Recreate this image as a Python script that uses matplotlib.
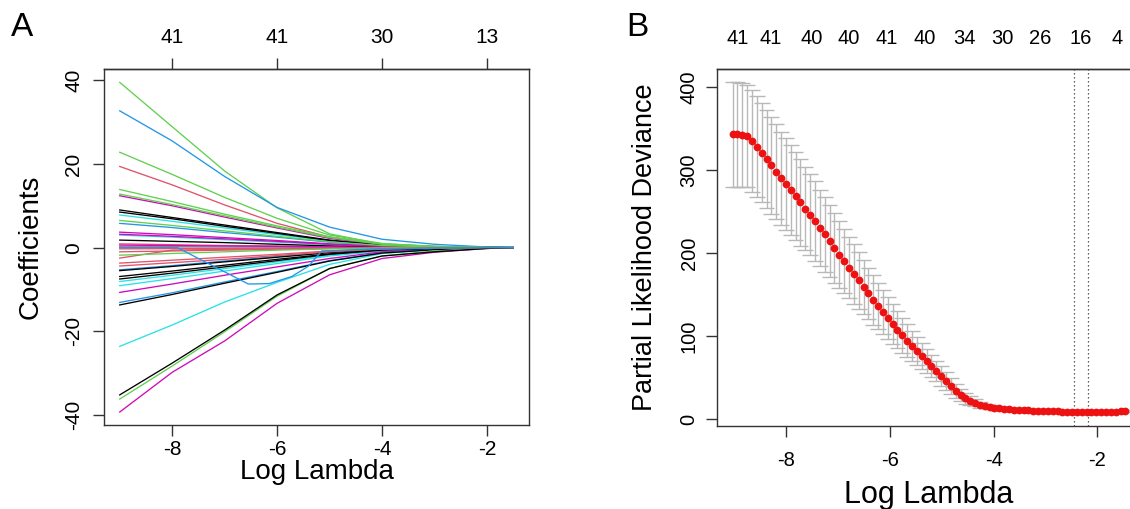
import numpy as np
import matplotlib
matplotlib.use("Agg")
import matplotlib.pyplot as plt

plt.rcParams['font.family'] = ['Liberation Sans', 'DejaVu Sans']

# ---------------- Panel A data: coefficient paths ----------------
KNOTS_A = [-9, -8, -7, -6, -5, -4, -3, -2, -1.5]

BLACK_PATHS = [
    [9.0, 7.2, 5.4, 3.6, 1.8, 0.6, 0.2, 0.03, 0],
    [8.5, 6.9, 5.1, 3.4, 1.7, 0.6, 0.2, 0.03, 0],
    [1.8, 1.5, 1.2, 0.8, 0.4, 0.15, 0.05, 0, 0],
    [-5.5, -4.5, -3.4, -2.3, -1.2, -0.4, -0.1, 0, 0],
    [-6.9, -5.6, -4.2, -2.8, -1.5, -0.5, -0.15, 0, 0],
    [-7.5, -6.1, -4.6, -3.1, -1.6, -0.6, -0.2, 0, 0],
    [-13.7, -11.2, -8.5, -5.9, -3.2, -1.3, -0.5, -0.1, 0],
    [-35.2, -27.6, -19.7, -11.3, -5.0, -2.0, -1.0, -0.2, 0],
]
RED_PATHS = [
    [19.4, 15.0, 10.2, 5.8, 2.5, 0.8, 0.3, 0.05, 0],
    [0.9, 0.7, 0.5, 0.4, 0.2, 0.05, 0, 0, 0],
    [0.2, 0.2, 0.15, 0.1, 0.05, 0, 0, 0, 0],
    [-0.3, -0.25, -0.2, -0.1, -0.05, 0, 0, 0, 0],
    [-1.0, -0.8, -0.6, -0.4, -0.2, -0.05, 0, 0, 0],
    [-2.5, -0.6, -0.4, -0.3, -0.15, -0.05, 0, 0, 0],
    [-3.7, -3.0, -2.3, -1.6, -0.8, -0.3, -0.1, 0, 0],
    [-4.4, -3.6, -2.8, -1.9, -1.0, -0.35, -0.1, 0, 0],
]
GREEN_PATHS = [
    [39.5, 28.9, 18.3, 9.5, 3.3, 0.8, 0.2, 0.05, 0],
    [22.8, 17.5, 12.0, 7.0, 3.0, 1.0, 0.3, 0.05, 0],
    [13.9, 11.0, 8.0, 5.2, 2.6, 0.9, 0.3, 0.05, 0],
    [12.8, 10.3, 7.6, 4.9, 2.4, 0.8, 0.25, 0.05, 0],
    [6.5, 5.3, 4.0, 2.7, 1.4, 0.5, 0.15, 0.02, 0],
    [-1.8, -1.4, -1.0, -0.6, -0.3, -0.1, 0, 0, 0],
    [-36.2, -28.3, -20.1, -11.6, -5.0, -2.0, -0.8, -0.15, 0],
]
BLUE_PATHS = [
    [32.7, 25.5, 17.0, 9.6, 4.9, 2.0, 0.8, 0.15, 0],
    [5.8, 4.8, 3.6, 2.5, 1.3, 0.4, 0.1, 0, 0],
    [-5.3, -4.3, -3.2, -2.1, -1.1, -0.4, -0.1, 0, 0],
    [-13.1, -10.8, -8.2, -5.7, -3.1, -1.2, -0.4, -0.05, 0],
]
CYAN_PATHS = [
    [7.8, 6.3, 4.7, 3.1, 1.6, 0.5, 0.15, 0.02, 0],
    [3.0, 2.5, 1.9, 1.3, 0.7, 0.25, 0.08, 0, 0],
    [-0.1, -0.1, -0.1, -0.05, 0, 0, 0, 0, 0],
    [-8.1, -6.6, -5.0, -3.4, -1.8, -0.7, -0.2, -0.03, 0],
    [-9.1, -7.4, -5.6, -3.8, -2.0, -0.8, -0.25, -0.04, 0],
    [-23.6, -18.5, -13.0, -8.3, -4.0, -1.4, -0.5, -0.1, 0],
]
MAGENTA_PATHS = [
    [12.4, 10.0, 7.3, 4.7, 2.2, 0.7, 0.2, 0.03, 0],
    [3.7, 3.1, 2.4, 1.7, 0.9, 0.3, 0.1, 0, 0],
    [3.2, 2.7, 2.1, 1.5, 0.8, 0.3, 0.1, 0, 0],
    [0.6, 0.5, 0.4, 0.3, 0.15, 0.05, 0, 0, 0],
    [-10.7, -8.7, -6.6, -4.6, -2.6, -1.0, -0.4, -0.1, 0],
    [-39.3, -29.8, -22.3, -13.3, -6.5, -2.6, -1.1, -0.2, 0],
]
# one blue path that enters late and dips
ODD_BLUE_X = [-9, -7.9, -7.5, -7.0, -6.55, -6.15, -5.72, -5.4, -5.15, -4.5, -4, -3, -2, -1.5]
ODD_BLUE_Y = [0, 0, -2.6, -5.8, -8.7, -8.6, -6.9, -4.4, -0.8, -0.5, -0.3, -0.1, 0, 0]

A_XTICKS = [-8, -6, -4, -2]
A_XTICKLABELS = ["-8", "-6", "-4", "-2"]
A_TOP_LABELS = ["41", "41", "30", "13"]
A_YTICKS = [-40, -20, 0, 20, 40]
A_YTICKLABELS = ["-40", "-20", "0", "20", "40"]

# ---------------- Panel B data: cross-validation curve ----------------
N_LAMBDA = 82
LOG_LAMBDA_FIRST, LOG_LAMBDA_LAST = -9.04, -1.46
CV_MEAN = [
    343, 343, 342.5, 341, 335, 328, 321, 313, 305.6, 298, 290, 283,
    275.9, 268.7, 261, 253.4, 246.1, 238.6, 230.5, 222.5, 214.5, 206,
    198, 190.4, 182.3, 174.7, 167.1, 159, 151.4, 143.7, 136.1, 128.9,
    121.7, 114.5, 107.6, 100.8, 94.3, 88, 81.9, 75.9, 69.9, 63.9,
    57.8, 51.8, 45.8, 39.8, 34.1, 28.9, 24.9, 22, 19.6, 17.2, 15.7, 14.5,
    13.6, 12.9, 12.3, 11.8, 11.3, 10.9, 10.6, 10.3, 10.0, 9.8,
    9.6, 9.4, 9.3, 9.1, 9.0, 8.9, 8.8, 8.7, 8.7, 8.6,
    8.6, 8.6, 8.7, 8.8, 8.9, 9.0, 9.2, 9.4,
]
CV_SE = [
    63, 63, 62.5, 62, 61.5, 61, 60, 59, 58, 57, 56, 55,
    54, 53, 52, 50, 49, 48, 46, 45, 43, 42,
    40, 39, 37, 36, 34, 33, 31, 30, 28, 27,
    25, 24, 22, 21, 20, 18, 17, 16, 15, 13.5,
    12.5, 11.5, 10.5, 9.5, 8.5, 7.5, 6.5, 5.5, 4.5, 3.5, 3, 2.5,
    2.2, 2.0, 1.8, 1.7, 1.6, 1.5, 1.4, 1.3, 1.2, 1.1,
    1.1, 1.0, 1.0, 1.0, 1.0, 1.0, 1.0, 1.0, 1.0, 1.0,
    1.0, 1.0, 1.0, 1.0, 1.0, 1.0, 1.0, 1.0,
]
LAMBDA_MIN_LOG = -2.456
LAMBDA_1SE_LOG = -2.18
B_TOP_POS = [-8.95, -8.30, -7.52, -6.79, -6.06, -5.33, -4.56, -3.83, -3.10, -2.33, -1.63]
B_TOP_LABELS = ["41", "41", "40", "40", "41", "40", "34", "30", "26", "16", "4"]
B_XTICKS = [-8, -6, -4, -2]
B_XTICKLABELS = ["-8", "-6", "-4", "-2"]
B_YTICKS = [0, 100, 200, 300, 400]
B_YTICKLABELS = ["0", "100", "200", "300", "400"]

# R default palette colours used by matplot
R_BLACK, R_RED, R_GREEN, R_BLUE, R_CYAN, R_MAGENTA = (
    "#000000", "#DF536B", "#61D04F", "#2297E6", "#28E2E5", "#CD0BBC")

# ---------------- Figure ----------------
W, H = 1130, 509
fig = plt.figure(figsize=(W / 100, H / 100), dpi=100)


def px_axes(l, t, r, b):
    return fig.add_axes([l / W, 1 - b / H, (r - l) / W, (b - t) / H])


axA = px_axes(104, 69, 529, 425)
axB = px_axes(717, 69, 1141, 426)

TICK_FS_A = 15
LAB_FS_A = 20
TICK_FS_B = 14.5
XLAB_FS_B = 22
YLAB_FS_B = 19.5

# ---- Panel A ----
groups = [(BLACK_PATHS, R_BLACK), (RED_PATHS, R_RED), (GREEN_PATHS, R_GREEN),
          (BLUE_PATHS, R_BLUE), (CYAN_PATHS, R_CYAN), (MAGENTA_PATHS, R_MAGENTA)]
maxlen = max(len(g[0]) for g in groups)
for i in range(maxlen):
    for paths, col in groups:
        if i < len(paths):
            axA.plot(KNOTS_A, paths[i], color=col, lw=0.95, solid_joinstyle='round')
axA.plot(ODD_BLUE_X, ODD_BLUE_Y, color=R_BLUE, lw=0.95)

axA.set_xlim(-9.3, -1.2)
axA.set_ylim(-42.4, 42.7)
axA.set_xticks(A_XTICKS, labels=A_XTICKLABELS)
axA.set_yticks(A_YTICKS, labels=A_YTICKLABELS)
axA.tick_params(axis='both', direction='out', length=8, width=1, labelsize=TICK_FS_A,
                color='#333333')
axA.tick_params(axis='x', pad=2.5)
axA.tick_params(axis='y', pad=6.8)
for lab in axA.get_yticklabels():
    lab.set_rotation(90)
    lab.set_va('center')
secA = axA.secondary_xaxis('top')
secA.set_xticks(A_XTICKS, labels=A_TOP_LABELS)
secA.tick_params(direction='out', length=8, width=1, labelsize=TICK_FS_A, pad=8,
                 color='#333333')
axA.set_xlabel("Log Lambda", fontsize=LAB_FS_A, labelpad=0)
axA.set_ylabel("Coefficients", fontsize=LAB_FS_A, labelpad=15)
for sp in list(axA.spines.values()) + [secA.spines['top']]:
    sp.set_linewidth(1.0)
    sp.set_color('#333333')

# ---- Panel B ----
x = np.linspace(LOG_LAMBDA_FIRST, LOG_LAMBDA_LAST, N_LAMBDA)
mean = np.array(CV_MEAN)
se = np.array(CV_SE)
upper, lower = mean + se, mean - se
barw = (x.max() - x.min()) * 0.02
ebcol = '#b8b8b8'
axB.vlines(x, lower, upper, color=ebcol, lw=1.0)
axB.hlines(upper, x - barw, x + barw, color=ebcol, lw=1.0)
axB.hlines(lower, x - barw, x + barw, color=ebcol, lw=1.0)
axB.plot(x, mean, 'o', color='#ee1111', ms=5.6, mew=0, zorder=3)
for v in (LAMBDA_MIN_LOG, LAMBDA_1SE_LOG):
    axB.axvline(v, color='#333333', lw=0.9, ls=(0, (1, 2.2)))

axB.set_xlim(-9.34, -1.16)
axB.set_ylim(-8.4, 421.7)
axB.set_xticks(B_XTICKS, labels=B_XTICKLABELS)
axB.set_yticks(B_YTICKS, labels=B_YTICKLABELS)
axB.tick_params(axis='both', direction='out', length=8, width=1, labelsize=TICK_FS_B,
                color='#333333')
axB.tick_params(axis='x', pad=10)
axB.tick_params(axis='y', pad=5.3)
for lab in axB.get_yticklabels():
    lab.set_rotation(90)
    lab.set_va('center')
secB = axB.secondary_xaxis('top')
secB.set_xticks(B_TOP_POS, labels=B_TOP_LABELS)
secB.tick_params(length=0, labelsize=TICK_FS_B, pad=15)
axB.set_xlabel("Log Lambda", fontsize=XLAB_FS_B, labelpad=7.5)
axB.set_ylabel("Partial Likelihood Deviance", fontsize=YLAB_FS_B, labelpad=15.5)
for sp in list(axB.spines.values()) + [secB.spines['top']]:
    sp.set_linewidth(1.0)
    sp.set_color('#333333')

fig.text(22 / W, 1 - 28 / H, "A", fontsize=24, ha='center', va='center')
fig.text(637 / W, 1 - 28 / H, "B", fontsize=24, ha='center', va='center')

fig.savefig("out.png", dpi=100)
